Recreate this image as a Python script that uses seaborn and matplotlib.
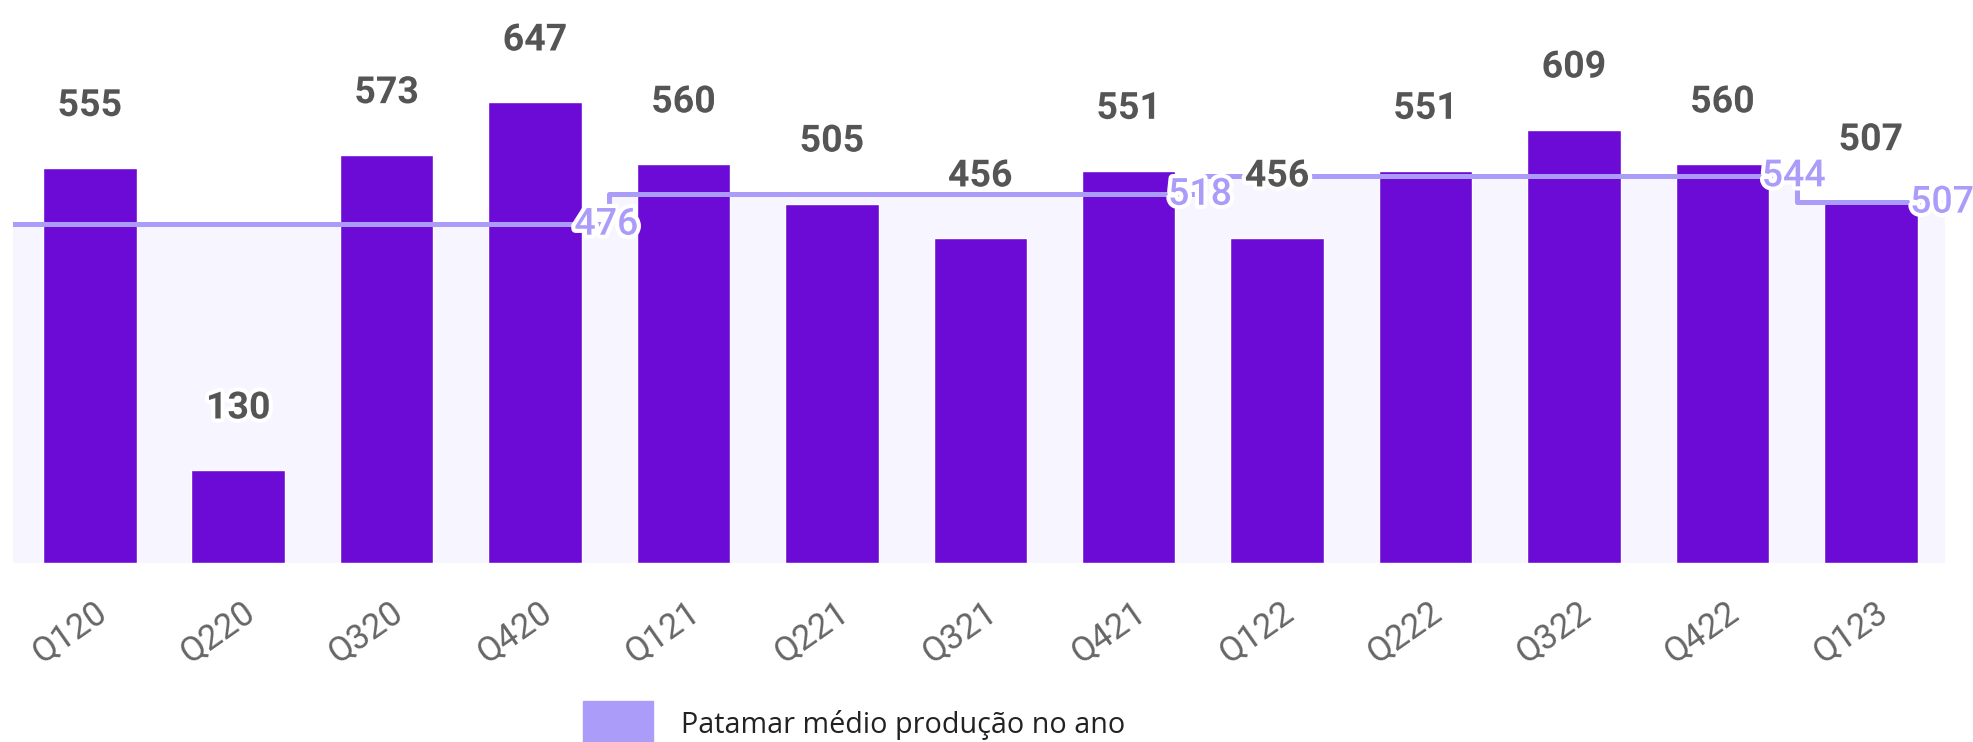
import matplotlib
matplotlib.use("Agg")
import matplotlib.pyplot as plt
import matplotlib.patheffects as pe
import matplotlib.transforms as mtrans
from matplotlib.patches import Rectangle
import seaborn as sns
import pandas as pd
import numpy as np

quarters = ["Q120", "Q220", "Q320", "Q420", "Q121", "Q221", "Q321",
            "Q421", "Q122", "Q222", "Q322", "Q422", "Q123"]
production = [555, 130, 573, 647, 560, 505, 456, 551, 456, 551, 609, 560, 507]
year_avg = [476, 518, 544, 507]
quarters_per_year = [4, 4, 4, 1]
legend_label = "Patamar médio produção no ano"

BAR = "#6c0bd6"
LINE = "#ab9cf9"
FILL = "#f7f5ff"
TXT = "#555555"

sns.set_theme(style="white")
plt.rcParams['font.family'] = ['Roboto', 'DejaVu Sans']

fig = plt.figure(figsize=(19.74, 7.42), dpi=100)
ax = fig.add_axes([12.6 / 1974, (742 - 563) / 742, (1945 - 12.6) / 1974, 563 / 742])

df = pd.DataFrame({"q": quarters, "v": production})
sns.barplot(data=df, x="q", y="v", color=BAR, saturation=1, width=0.63, ax=ax, zorder=3)

# step line of yearly averages
edges = np.concatenate([[-0.52], np.cumsum(quarters_per_year) - 0.5])
xs, ys = [], []
for i, avg in enumerate(year_avg):
    xs += [edges[i], edges[i + 1]]
    ys += [avg, avg]
ax.fill_between(xs, ys, 0, color=FILL, zorder=1, lw=0)
ax.plot(xs, ys, color=LINE, lw=3.6, zorder=4, solid_joinstyle="round",
        solid_capstyle="round")

outline = [pe.withStroke(linewidth=6, foreground="white")]
for i, avg in enumerate(year_avg):
    ax.text(edges[i + 1] - 0.02, avg, str(avg), ha="center", va="center",
            fontsize=27, fontweight="medium", color=LINE, zorder=6,
            path_effects=outline, clip_on=False)

for i, v in enumerate(production):
    ax.annotate(str(v), (i, v), xytext=(0, 45), textcoords="offset points",
                ha="center", va="center", fontsize=27, fontweight="bold",
                color=TXT, zorder=7, path_effects=outline, annotation_clip=False)

ax.set_xlim(-0.52, 12.5)
ax.set_ylim(0, 791)
ax.set_yticks([])
ax.set_xlabel("")
ax.set_ylabel("")
for s in ax.spines.values():
    s.set_visible(False)
ax.set_xticks(range(len(quarters)))
ax.set_xticklabels(quarters, rotation=35, ha="center", fontsize=25,
                   color="#666666", fontweight="normal")
ax.tick_params(axis="x", length=0, pad=23)
shift = mtrans.ScaledTranslation(-21 / 100, 0, fig.dpi_scale_trans)
for lbl in ax.get_xticklabels():
    lbl.set_transform(lbl.get_transform() + shift)

# legend
fig.patches.append(Rectangle((583 / 1974, 0), 70 / 1974, 41 / 742,
                             transform=fig.transFigure, color=LINE, zorder=5))
fig.text(681 / 1974, 1 - 725 / 742, legend_label, ha="left", va="center",
         fontsize=20.7, color="#222222", family=["Open Sans", "DejaVu Sans"])

fig.savefig("out.png", dpi=100)
